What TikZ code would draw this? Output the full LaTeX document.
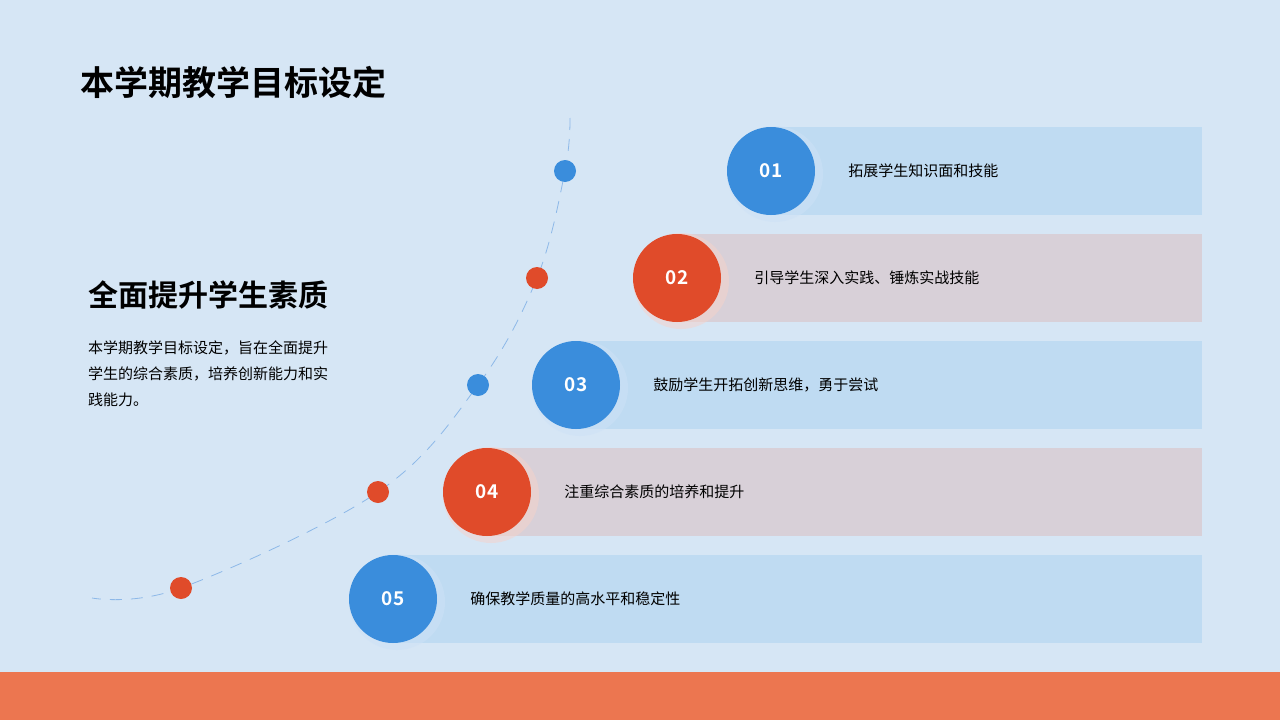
\documentclass[tikz,border=0pt]{standalone}
\usepackage{fontspec}
\setmainfont{Noto Sans CJK SC}
\newfontfamily\cjkbold{Noto Sans CJK SC Bold}
\usetikzlibrary{positioning}
\definecolor{bgblue}{HTML}{D6E6F5}
\definecolor{barorange}{HTML}{EC7650}
\definecolor{dotblue}{HTML}{3A8DDC}
\definecolor{dotred}{HTML}{E04B2A}
\definecolor{bandblue}{HTML}{BFDBF2}
\definecolor{bandred}{HTML}{D8D0D8}
\definecolor{dashblue}{HTML}{8DB8E8}
\tikzset{
  numdot/.style={circle,minimum size=88pt,inner sep=0pt,text=white,font=\cjkbold\fontsize{19}{19}\selectfont},
  band/.style={minimum height=88pt,inner sep=0pt},
  itemtext/.style={anchor=west,inner sep=0pt,font=\fontsize{15}{15}\selectfont},
  pathdot/.style={circle,minimum size=22pt,inner sep=0pt}
}
\begin{document}
\begin{tikzpicture}[x=1pt,y=-1pt]
	\useasboundingbox (0,0) rectangle (1280,720);
	\fill[bgblue] (0,0) rectangle (1280,720);
	\fill[barorange] (0,672) rectangle (1280,720);
	% titles
	\node[anchor=west,inner sep=0pt,font=\cjkbold\fontsize{34}{34}\selectfont] (title) at (80,82) {本学期教学目标设定};
	\node[anchor=west,inner sep=0pt,font=\cjkbold\fontsize{30}{30}\selectfont] (sub) at (88,295) {全面提升学生素质};
	\node[anchor=north west,inner sep=0pt,align=left,font=\fontsize{15}{26}\selectfont] (para) at (88,341)
		{本学期教学目标设定，旨在全面提升\\学生的综合素质，培养创新能力和实\\践能力。};
	% dashed path
	\draw[dashblue,thick,dash pattern=on 12pt off 9pt] plot[smooth,tension=0.6] coordinates
		{(570,118) (565,171) (537,278) (478,385) (378,492) (181,588) (92,598)};
	\foreach \px/\py/\col [count=\i] in {565/171/dotblue,537/278/dotred,478/385/dotblue,378/492/dotred,181/588/dotred}
		\node[pathdot,fill=\col] (p\i) at (\px,\py) {};
	% items
	\foreach \cx/\cy/\col/\bcol/\txt [count=\i] in {
		771/171/dotblue/bandblue/拓展学生知识面和技能,
		677/278/dotred/bandred/引导学生深入实践、锤炼实战技能,
		576/385/dotblue/bandblue/鼓励学生开拓创新思维，勇于尝试,
		487/492/dotred/bandred/注重综合素质的培养和提升,
		393/599/dotblue/bandblue/确保教学质量的高水平和稳定性}
	{
		\fill[\bcol] (\cx,\cy-44) rectangle (1202,\cy+44);
		\fill[\col!25,opacity=0.5] (\cx+4,\cy+3) circle (48pt);
		\node[numdot,fill=\col] (c\i) at (\cx,\cy) {0\i};
		\node[itemtext,right=33pt of c\i] (t\i) {\txt};
	}
\end{tikzpicture}
\end{document}
